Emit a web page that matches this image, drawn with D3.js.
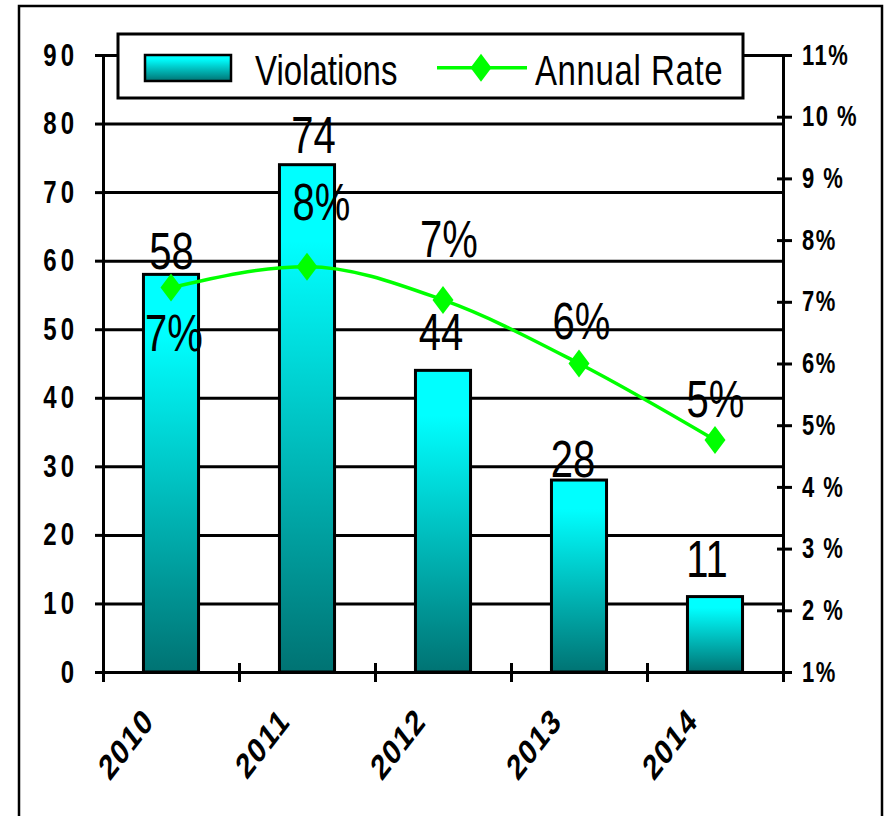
<!DOCTYPE html>
<html>
<head>
<meta charset="utf-8">
<script src="https://cdn.jsdelivr.net/npm/d3@7"></script>
<style>
  body { margin: 0; background: #fff; }
  svg { display: block; }
</style>
</head>
<body>
<div id="chart"></div>
<script>
// data
const years = ['2010', '2011', '2012', '2013', '2014'];
const violations = [58, 74, 44, 28, 11];
const annualRate = [7.23, 7.57, 7.03, 6.0, 4.76];
const rateLabels = ['7%', '8%', '7%', '6%', '5%'];
const leftTicks = [0, 10, 20, 30, 40, 50, 60, 70, 80, 90];
const rightTicks = [1, 2, 3, 4, 5, 6, 7, 8, 9, 10, 11];
const rightTickLabels = ['1%', '2 %', '3 %', '4 %', '5%', '6%', '7%', '8%', '9 %', '10 %', '11%'];

// hand placed label nudges (px) as in the original
const valueLabelDx = [0.5, 6.5, -2, -6, -8];
const valueLabelDy = [-5, -12, -20, -3, -20];
const rateLabelDx = [3, 14.5, 6, 2.5, 0.5];
const rateLabelDy = [63, -47, -43, -25, -23];

const width = 885;
const height = 816;
const SY = 1.3; // the picture is stretched vertically
const font = 'Arial, "Liberation Sans", sans-serif';

const svg = d3.select('#chart')
  .append('svg')
  .attr('width', width)
  .attr('height', height);

const plot = { left: 103, right: 783, top: 55, bottom: 672 };

const yLeft = d3.scaleLinear().domain([0, 90]).range([plot.bottom, plot.top]);
const yRight = d3.scaleLinear().domain([1, 11]).range([plot.bottom, plot.top]);
const x = d3.scaleBand()
  .domain(years)
  .range([plot.left, plot.right])
  .paddingInner(0.595)
  .paddingOuter(0.2975);
const xEdge = d3.scaleLinear().domain([0, years.length]).range([plot.left, plot.right]);
const cx = (i) => x(years[i]) + x.bandwidth() / 2;

const defs = svg.append('defs');
const grad = defs.append('linearGradient')
  .attr('id', 'barFill')
  .attr('x1', 0).attr('y1', 0).attr('x2', 0).attr('y2', 1);
grad.append('stop').attr('offset', '0%').attr('stop-color', '#00ffff');
grad.append('stop').attr('offset', '15%').attr('stop-color', '#00ffff');
grad.append('stop').attr('offset', '100%').attr('stop-color', '#007373');

// outer frame
svg.append('rect')
  .attr('x', 19).attr('y', 6)
  .attr('width', 863).attr('height', 840)
  .attr('fill', 'none')
  .attr('stroke', '#000')
  .attr('stroke-width', 2.5);

// gridlines
svg.append('g')
  .attr('transform', `translate(${plot.left},0)`)
  .call(d3.axisLeft(yLeft).tickValues(leftTicks.slice(1)).tickFormat('').tickSize(-(plot.right - plot.left)))
  .call((g) => g.select('.domain').remove())
  .selectAll('line')
  .attr('stroke', '#000')
  .attr('stroke-width', 3);

// bars
svg.append('g')
  .selectAll('rect')
  .data(violations)
  .join('rect')
  .attr('x', (d, i) => x(years[i]))
  .attr('y', (d) => yLeft(d))
  .attr('width', x.bandwidth())
  .attr('height', (d) => yLeft(0) - yLeft(d))
  .attr('fill', 'url(#barFill)')
  .attr('stroke', '#000')
  .attr('stroke-width', 3);

// left axis
const leftAxis = svg.append('g')
  .attr('transform', `translate(${plot.left},0)`)
  .call(d3.axisLeft(yLeft).tickValues(leftTicks).tickSize(8).tickSizeOuter(0).tickPadding(17));
leftAxis.selectAll('.domain, line').attr('stroke', '#000').attr('stroke-width', 3);
leftAxis.selectAll('text')
  .attr('font-family', font)
  .attr('font-size', 24)
  .attr('font-weight', 'bold')
  .attr('letter-spacing', 4)
  .attr('fill', '#000')
  .attr('transform', `scale(1,${SY})`);

// right axis
const rightAxis = svg.append('g')
  .attr('transform', `translate(${plot.right},0)`)
  .call(d3.axisRight(yRight).tickValues(rightTicks).tickSize(9).tickSizeOuter(0).tickPadding(10)
    .tickFormat((d, i) => rightTickLabels[i]));
rightAxis.selectAll('.domain, line').attr('stroke', '#000').attr('stroke-width', 3);
rightAxis.selectAll('line').attr('x1', -6);
rightAxis.selectAll('text')
  .attr('font-family', font)
  .attr('font-size', 22)
  .attr('font-weight', 'bold')
  .attr('letter-spacing', 1.5)
  .attr('fill', '#000')
  .attr('transform', `scale(1,${SY})`);

// bottom axis
const bottomAxis = svg.append('g')
  .attr('transform', `translate(0,${plot.bottom})`)
  .call(d3.axisBottom(xEdge).tickValues(d3.range(years.length + 1)).tickSize(10).tickSizeOuter(0).tickFormat(''));
bottomAxis.selectAll('.domain, line').attr('stroke', '#000').attr('stroke-width', 3);
bottomAxis.selectAll('line').attr('y1', -9);

svg.append('g')
  .selectAll('text')
  .data(years)
  .join('text')
  .attr('transform', (d, i) => `translate(${cx(i) - 16},${plot.bottom + 51}) scale(1,${SY}) rotate(-45)`)
  .attr('text-anchor', 'end')
  .attr('font-family', font)
  .attr('font-size', 27)
  .attr('font-weight', 'bold')
  .attr('letter-spacing', 1)
  .text((d) => d);

// annual rate line
const line = d3.line()
  .x((d, i) => cx(i))
  .y((d) => yRight(d))
  .curve(d3.curveMonotoneX);

svg.append('path')
  .datum(annualRate)
  .attr('d', line)
  .attr('fill', 'none')
  .attr('stroke', '#00ff00')
  .attr('stroke-width', 3.5);

const diamond = 'M0,-14L10.5,0L0,14L-10.5,0Z';
svg.append('g')
  .selectAll('path')
  .data(annualRate)
  .join('path')
  .attr('d', diamond)
  .attr('transform', (d, i) => `translate(${cx(i)},${yRight(d)})`)
  .attr('fill', '#00ff00');

// value labels
svg.append('g')
  .selectAll('text')
  .data(violations)
  .join('text')
  .attr('transform', (d, i) => `translate(${cx(i) + valueLabelDx[i]},${yLeft(d) + valueLabelDy[i]}) scale(1,${SY})`)
  .attr('text-anchor', 'middle')
  .attr('font-family', font)
  .attr('font-size', 40)
  .text((d) => d);

svg.append('g')
  .selectAll('text')
  .data(annualRate)
  .join('text')
  .attr('transform', (d, i) => `translate(${cx(i) + rateLabelDx[i]},${yRight(d) + rateLabelDy[i]}) scale(1,${SY})`)
  .attr('text-anchor', 'middle')
  .attr('font-family', font)
  .attr('font-size', 40)
  .text((d, i) => rateLabels[i]);

// legend
const legend = svg.append('g');
legend.append('rect')
  .attr('x', 118).attr('y', 34)
  .attr('width', 625).attr('height', 64)
  .attr('fill', '#fff')
  .attr('stroke', '#000')
  .attr('stroke-width', 3);
legend.append('rect')
  .attr('x', 145).attr('y', 55)
  .attr('width', 86).attr('height', 26)
  .attr('fill', 'url(#barFill)')
  .attr('stroke', '#000')
  .attr('stroke-width', 2.5);
legend.append('text')
  .attr('transform', `translate(255,84.5) scale(1,${SY})`)
  .attr('font-family', font)
  .attr('font-size', 33)
  .text('Violations');
legend.append('line')
  .attr('x1', 437).attr('x2', 527)
  .attr('y1', 67.7).attr('y2', 67.7)
  .attr('stroke', '#00ff00')
  .attr('stroke-width', 3.5);
legend.append('path')
  .attr('d', diamond)
  .attr('transform', 'translate(481,67.7)')
  .attr('fill', '#00ff00');
legend.append('text')
  .attr('transform', `translate(535,84.5) scale(1,${SY})`)
  .attr('font-family', font)
  .attr('font-size', 33)
  .attr('letter-spacing', 0.6)
  .text('Annual Rate');
</script>
</body>
</html>
